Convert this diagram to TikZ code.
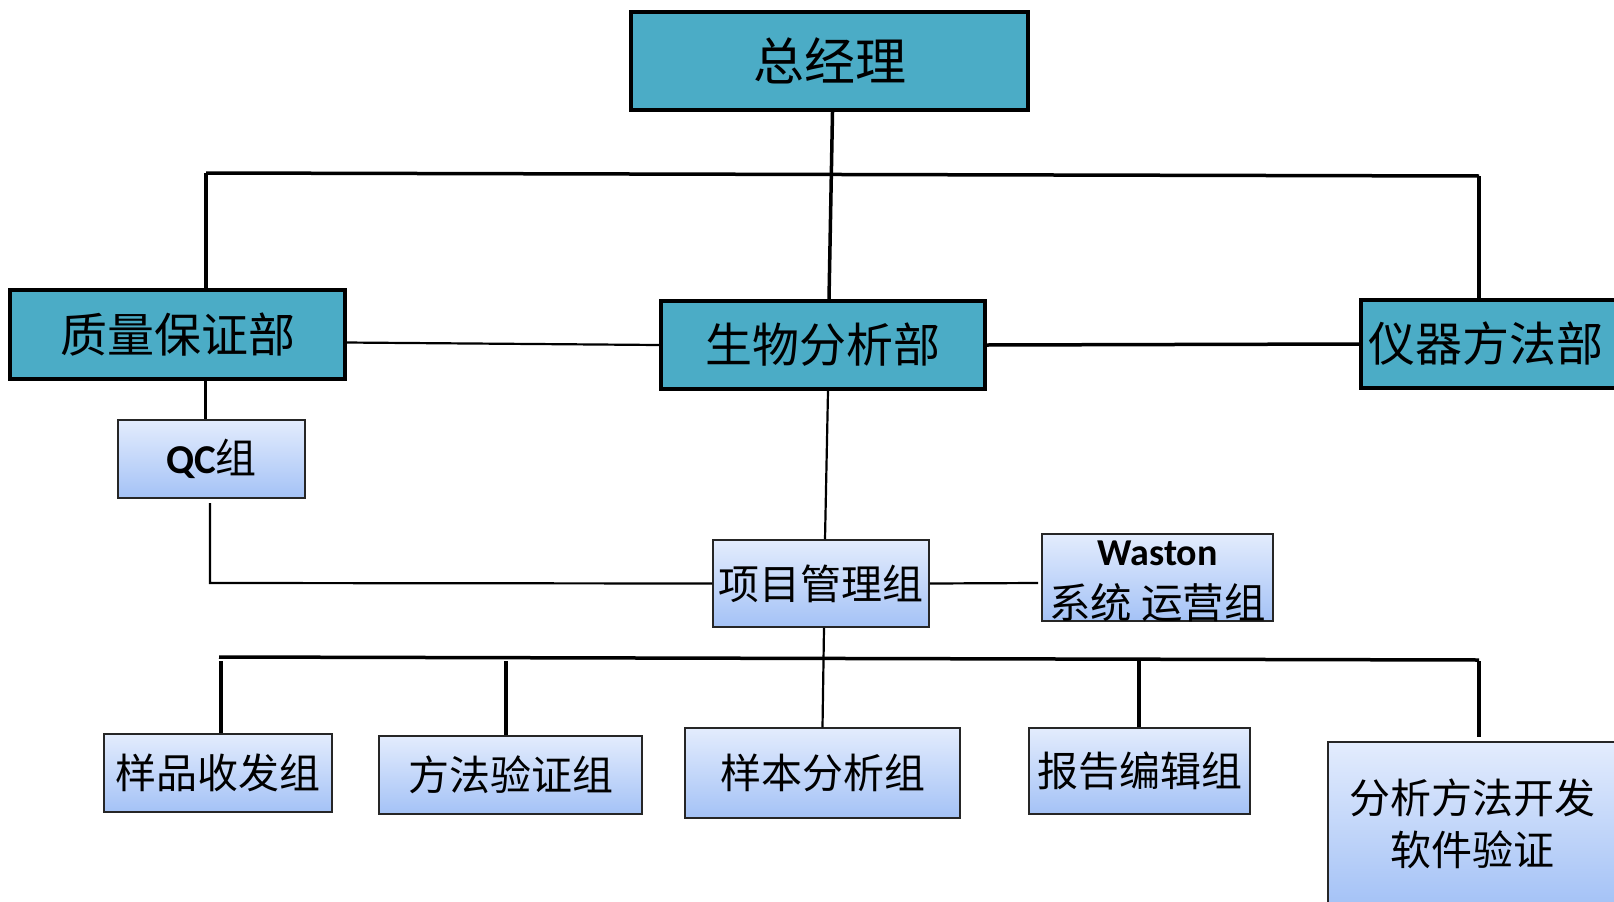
\documentclass[tikz,border=0pt]{standalone}
\usepackage{fontspec}
\newfontfamily\cjk{Noto Sans CJK SC}
\newfontfamily\lat{Carlito}
\definecolor{teal1}{HTML}{4BACC6}
\definecolor{gtop}{HTML}{E3ECFD}
\definecolor{gbot}{HTML}{A4C2F6}
\begin{document}
\begin{tikzpicture}[x=1pt,y=-1pt,
  bigbox/.style={draw=black, line width=4pt, fill=teal1, inner sep=0pt,
    font=\cjk\fontsize{47}{56}\selectfont},
  smallbox/.style={draw=black!85, line width=1.5pt, top color=gtop, bottom color=gbot,
    inner sep=0pt, font=\cjk\fontsize{41}{50}\selectfont},
  thick line/.style={line width=3.5pt},
  thin line/.style={line width=2.2pt}]
\useasboundingbox (0,0) rectangle (1614,902);
\clip (0,0) rectangle (1614,902);
% big boxes
\node[bigbox, minimum width=397pt, minimum height=98pt, font=\cjk\fontsize{51}{60}\selectfont] (gm) at (829.5,61) {总经理};
\node[bigbox, minimum width=335pt, minimum height=89pt] (qa) at (177.5,334.5) {质量保证部};
\node[bigbox, minimum width=324pt, minimum height=88pt] (bio) at (823,345) {生物分析部};
\node[bigbox, minimum width=280pt, minimum height=88pt] (ins) at (1501,344) {仪器方法部\kern30pt};
% small boxes
\node[smallbox, minimum width=187pt, minimum height=78pt] (qc) at (211.5,459) {{\lat\bfseries QC}组};
\node[smallbox, minimum width=216pt, minimum height=87pt] (pm) at (821,583.5) {项目管理组};
\node[smallbox, minimum width=231pt, minimum height=87pt] (ws) at (1157.5,577.5) {};
\node[font=\lat\bfseries\fontsize{38}{40}\selectfont] (wst) at (1157.5,553) {Waston};
\node[font=\cjk\fontsize{41.5}{42}\selectfont] (wsb) at (1157.5,603) {系统 运营组};
\node[smallbox, minimum width=228pt, minimum height=78pt] (b1) at (218,773) {样品收发组};
\node[smallbox, minimum width=263pt, minimum height=78pt] (b2) at (510.5,775) {方法验证组};
\node[smallbox, minimum width=275pt, minimum height=90pt] (b3) at (822.5,773) {样本分析组};
\node[smallbox, minimum width=221pt, minimum height=86pt] (b4) at (1139.5,771) {报告编辑组};
\node[smallbox, minimum width=288pt, minimum height=164pt, align=center,
  font=\cjk\fontsize{41}{52}\selectfont] (b5) at (1472,824) {分析方法开发\\软件验证};
% coordinates
\coordinate (busL) at (206,173);
\coordinate (busR) at (1479,176);
\coordinate (lbL) at (219,657);
\coordinate (lbR) at (1479,660);
\coordinate (qcA) at (210,503);
\coordinate (qcB) at (210,583);
\coordinate (qae) at (345,342.5);
\coordinate (wsl) at (1038,583);
\coordinate (t1) at (221,661);
\coordinate (t2) at (506,661);
\coordinate (t4) at (1139,661);
\coordinate (t5) at (1479,661);
\coordinate (t5e) at (1479,737);
% connectors
\draw[thick line] ([xshift=3pt]gm.south) -- ([xshift=6pt]bio.north);
\draw[thick line] (busL) -- (busR);
\draw[thick line] (busL) -- (busL |- qa.north);
\draw[thick line] (busR) -- (busR |- ins.north);
\draw[thin line] (qae) -- (bio.west);
\draw[thick line] (bio.east) -- (ins.west);
\draw[thick line] (qa.south -| qc.north) ++(-6pt,0) -- ([xshift=-6pt]qc.north);
\draw[thin line] (qcA) -- (qcB) -- (pm.west);
\draw[thin line] ([xshift=5pt]bio.south) -- ([xshift=4pt]pm.north);
\draw[thin line] (pm.east) -- (wsl);
\draw[thin line] ([xshift=3pt]pm.south) -- (b3.north);
\draw[thick line] (lbL) -- (lbR);
\draw[thick line] (t1) -- (t1 |- b1.north);
\draw[thick line] (t2) -- (t2 |- b2.north);
\draw[thick line] (t4) -- (t4 |- b4.north);
\draw[thick line] (t5) -- (t5e);
\end{tikzpicture}
\end{document}
